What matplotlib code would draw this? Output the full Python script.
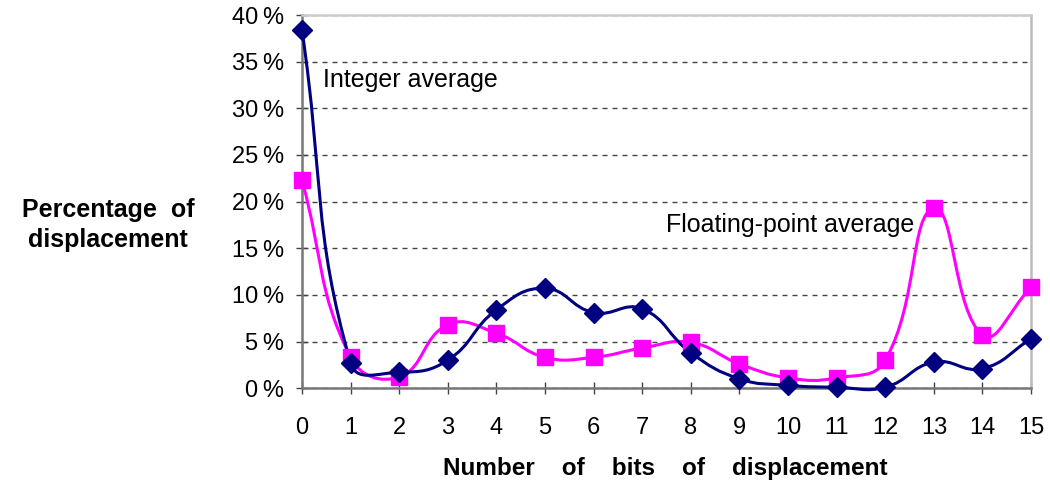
# Displacement bit distribution, integer vs floating-point average.

import matplotlib
matplotlib.use('Agg')
import math
import matplotlib.pyplot as plt
from matplotlib.path import Path
from matplotlib.patches import PathPatch
from matplotlib.ticker import FuncFormatter

bits = list(range(16))
integer_avg = [38.4, 2.7, 1.7, 3.0, 8.4, 10.7, 8.1, 8.5, 3.8, 1.0, 0.3, 0.1, 0.1, 2.8, 2.1, 5.3]
float_avg = [22.3, 3.3, 1.2, 6.8, 5.9, 3.3, 3.3, 4.3, 4.9, 2.6, 1.1, 1.1, 3.0, 19.3, 5.7, 10.8]

NAVY = '#000080'
MAGENTA = '#ff00ff'


def smooth_path(ax, xs, ys, k=0.45):
    # smoothed line like a spreadsheet chart: bezier segments whose
    # control arms are weighted by segment length in screen space
    pts = ax.transData.transform(list(zip(xs, ys)))
    n = len(pts)

    def dist(a, b):
        return math.hypot(pts[b][0] - pts[a][0], pts[b][1] - pts[a][1])

    verts = [tuple(pts[0])]
    codes = [Path.MOVETO]
    for i in range(n - 1):
        a, b = max(i - 1, 0), min(i + 2, n - 1)
        d01 = dist(i, i + 1)
        dl = dist(a, i) + d01
        dr = d01 + dist(i + 1, b)
        c1 = pts[i] + (pts[i + 1] - pts[a]) * k * d01 / dl
        c2 = pts[i + 1] - (pts[b] - pts[i]) * k * d01 / dr
        verts += [tuple(c1), tuple(c2), tuple(pts[i + 1])]
        codes += [Path.CURVE4] * 3
    inv = ax.transData.inverted()
    return Path(inv.transform(verts), codes)


plt.rcParams['font.family'] = ['Liberation Sans', 'DejaVu Sans']
fig = plt.figure(figsize=(10.5, 4.84), dpi=100)
ax = fig.add_axes([0.2876, 0.198, 0.6944, 0.771])
ax.set_xlim(0, 15)
ax.set_ylim(0, 40)

for ys, color in ((float_avg, MAGENTA), (integer_avg, NAVY)):
    ax.add_patch(PathPatch(smooth_path(ax, bits, ys), facecolor='none',
                           edgecolor=color, lw=2.2, zorder=3, clip_on=False))

ax.plot(bits, float_avg, ls='none', marker='s', ms=11.5, color=MAGENTA,
        zorder=4, clip_on=False)
ax.plot(bits, integer_avg, ls='none', marker='D', ms=10.5, color=NAVY,
        zorder=5, clip_on=False)

ax.set_xticks(bits)
ax.set_yticks(range(0, 41, 5))
ax.yaxis.set_major_formatter(FuncFormatter(lambda v, p: '%d\u2009%%' % v))
ax.tick_params(axis='both', direction='inout', length=8, width=1, color='#444444',
               labelsize=17)
ax.tick_params(axis='x', pad=17)
ax.tick_params(axis='y', pad=9)
ax.yaxis.grid(True, ls=(0, (3.6, 3.6)), color='#444444', lw=1)
ax.set_axisbelow(True)

ax.spines['left'].set_color('#777777')
ax.spines['bottom'].set_color('#777777')
ax.spines['top'].set_color('#cccccc')
ax.spines['right'].set_color('#bbbbbb')
for s in ax.spines.values():
    s.set_linewidth(1.8)

ax.text(0.43, 33.0, 'Integer average', fontsize=18, va='center', ha='left')
ax.text(12.6, 17.5, 'Floating-point average', fontsize=18, va='center', ha='right')

fig.text(0.103, 0.535, 'Percentage  of\ndisplacement', fontsize=18, fontweight='bold',
         ha='center', va='center', multialignment='center', linespacing=1.35)
fig.text(0.634, 0.033, 'Number    of    bits    of    displacement', fontsize=17.5,
         fontweight='bold', ha='center', va='center')

fig.savefig('out.png', dpi=100)
